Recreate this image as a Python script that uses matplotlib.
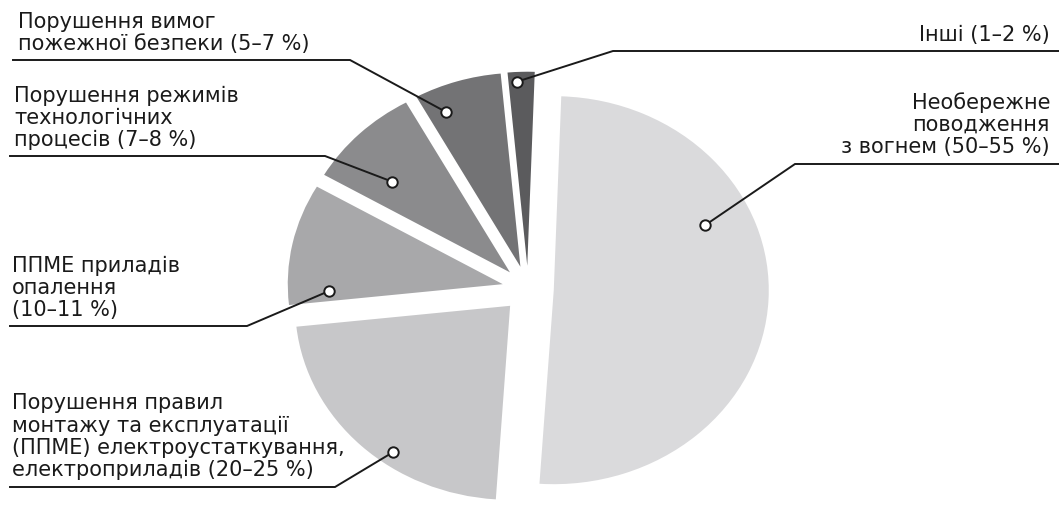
import numpy as np
import matplotlib.pyplot as plt

W, H = 1059, 506

# причини пожеж, частки у %
labels = [
    "Необережне\nповодження\nз вогнем (50–55 %)",
    "Порушення правил\nмонтажу та експлуатації\n(ППМЕ) електроустаткування,\nелектроприладів (20–25 %)",
    "ППМЕ приладів\nопалення\n(10–11 %)",
    "Порушення режимів\nтехнологічних\nпроцесів (7–8 %)",
    "Порушення вимог\nпожежної безпеки (5–7 %)",
    "Інші (1–2 %)",
]
values = [50, 22, 10, 8.5, 6.5, 2]
colors = ['#dadadc', '#c7c7c9', '#a8a8aa', '#8b8b8d', '#737375', '#5b5b5d']

# де на секторі кружечок виноски: частка кута сектора та частка радіуса
dot_angle_frac = [0.656, 0.6, 0.9, 0.667, 0.77, 0.67]
dot_radius = [0.78, 0.93, 0.81, 0.72, 0.87, 0.95]

# виноски (пікселі зображення)
line_y = [165, 488, 327, 157, 61, 52]
line_end = [1059, 10, 10, 10, 13, 1059]
elbow_x = [795, 335, 247, 325, 350, 613]
text_x = [1050, 12, 12, 14, 18, 1050]
text_gap = [8, 8, 7, 7, 7, 7]

# центр і півосі круга (рисунок трохи розтягнутий по горизонталі)
CX, CY = 528, 290
RX, RY = 215, 194


def to_data(x, y):
    return (x - CX) / RX, (CY - y) / RY


plt.rcParams['font.family'] = ['DejaVu Sans']

fig = plt.figure(figsize=(W / 100, H / 100), dpi=100)
ax = fig.add_axes([0, 0, 1, 1])

wedges, _ = ax.pie(values, colors=colors, startangle=88, counterclock=False,
                   explode=[0.12] * len(values), radius=1,
                   wedgeprops=dict(linewidth=0))

ax.set_aspect('auto')
x0, y0 = to_data(0, H)
x1, y1 = to_data(W, 0)
ax.set_xlim(x0, x1)
ax.set_ylim(y0, y1)
ax.axis('off')

for i, w in enumerate(wedges):
    ang = np.radians(w.theta1 + dot_angle_frac[i] * (w.theta2 - w.theta1))
    dx = w.center[0] + dot_radius[i] * np.cos(ang)
    dy = w.center[1] + dot_radius[i] * np.sin(ang)

    ex, ey = to_data(elbow_x[i], line_y[i])
    fx, _ = to_data(line_end[i], line_y[i])
    ax.plot([dx, ex, fx], [dy, ey, ey], color='#1a1a1a', lw=1.4,
            solid_joinstyle='miter', zorder=3)
    ax.plot(dx, dy, 'o', ms=7.5, mfc='white', mec='#1a1a1a', mew=1.4, zorder=4)

    tx, ty = to_data(text_x[i], line_y[i] - text_gap[i])
    ha = 'right' if text_x[i] > CX else 'left'
    ax.text(tx, ty, labels[i], ha=ha, va='bottom', multialignment=ha,
            fontsize=15, color='#1a1a1a', linespacing=1.13)

fig.savefig('out.png', dpi=100)
